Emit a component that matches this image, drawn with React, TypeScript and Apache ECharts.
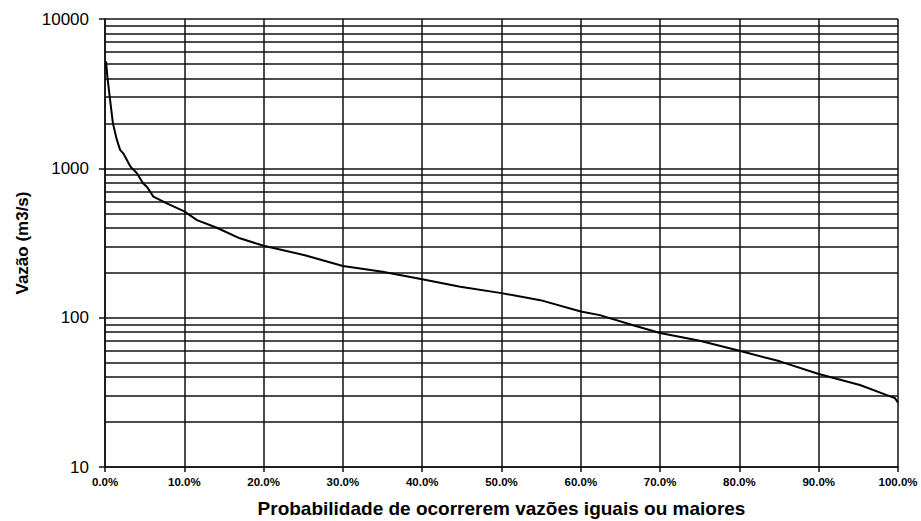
import React, { useEffect, useRef } from "react";
import * as echarts from "echarts";

const PROBABILITY = [
  0.13, 0.3, 0.6, 1.0, 1.5, 1.9, 2.3, 3.2, 3.4, 4.0, 4.8, 5.3, 6.1, 7.8, 10, 11.6, 14.1,
  17.0, 20, 25.2, 30, 35, 40, 44.8, 50, 54.9, 60, 62.4, 66.6, 70, 75, 80, 85.1, 90,
  95.2, 98.6, 99.6, 100,
];
const FLOW = [
  5200, 4100, 3000, 2000, 1550, 1330, 1260, 1030, 1000, 930, 794, 750, 646, 583, 515, 450, 400,
  340, 303, 262, 222, 203, 181, 161, 146, 131, 110, 104, 89, 79, 70, 60, 51, 42,
  35.4, 30.3, 29, 27,
];
const MINOR_GRID = [
  20, 30, 40, 50, 60, 70, 80, 90, 200, 300, 400, 500, 600, 700, 800, 900, 2000, 3000,
  4000, 5000, 6000, 7000, 8000, 9000,
];
const X_TITLE = "Probabilidade de ocorrerem vazões iguais ou maiores";
const Y_TITLE = "Vazão (m3/s)";

export default function App() {
  const ref = useRef<HTMLDivElement>(null);
  useEffect(() => {
    document.body.style.margin = "0";
    const chart = echarts.init(ref.current!, null, { renderer: "svg" });
    const font = "'Liberation Sans', Arial, sans-serif";
    const gridLine = { color: "#111", width: 1.5 };
    chart.setOption({
      animation: false,
      backgroundColor: "#fff",
      grid: {
        left: 105,
        right: 23,
        top: 19,
        bottom: 54,
        containLabel: false,
        outerBoundsMode: "none",
      },
      xAxis: {
        type: "value",
        min: 0,
        max: 100,
        interval: 10,
        name: X_TITLE,
        nameLocation: "middle",
        nameGap: 32,
        nameTextStyle: { fontFamily: font, fontWeight: "bold", fontSize: 19, color: "#000" },
        axisLine: { show: true, lineStyle: gridLine },
        axisTick: { show: true, length: 5, lineStyle: gridLine },
        axisLabel: {
          formatter: (v: number) => v.toFixed(1) + "%",
          fontFamily: font,
          fontWeight: "bold",
          fontSize: 11.5,
          color: "#000",
          margin: 9,
        },
        splitLine: { show: true, lineStyle: gridLine },
      },
      yAxis: {
        type: "log",
        logBase: 10,
        min: 10,
        max: 10000,
        name: Y_TITLE,
        nameLocation: "middle",
        nameGap: 57,
        nameRotate: 90,
        nameTextStyle: { fontFamily: font, fontWeight: "bold", fontSize: 17, color: "#000" },
        axisLine: { show: true, lineStyle: gridLine },
        axisTick: { show: true, length: 6, lineStyle: gridLine },
        axisLabel: {
          formatter: (v: number) => String(Math.round(v)),
          fontFamily: font,
          fontSize: 17,
          color: "#000",
          margin: 16,
        },
        splitLine: { show: true, lineStyle: gridLine },
      },
      series: [
        {
          type: "line",
          data: PROBABILITY.map((p, i) => [p, FLOW[i]]),
          showSymbol: false,
          lineStyle: { color: "#000", width: 2 },
          z: 5,
          markLine: {
            silent: true,
            symbol: "none",
            label: { show: false },
            lineStyle: { color: "#111", width: 1.5, type: "solid" },
            data: MINOR_GRID.map((v) => ({ yAxis: v })),
            z: 1,
          },
        },
      ],
    });
    return () => chart.dispose();
  }, []);
  return <div ref={ref} style={{ width: 921, height: 521 }} />;
}
